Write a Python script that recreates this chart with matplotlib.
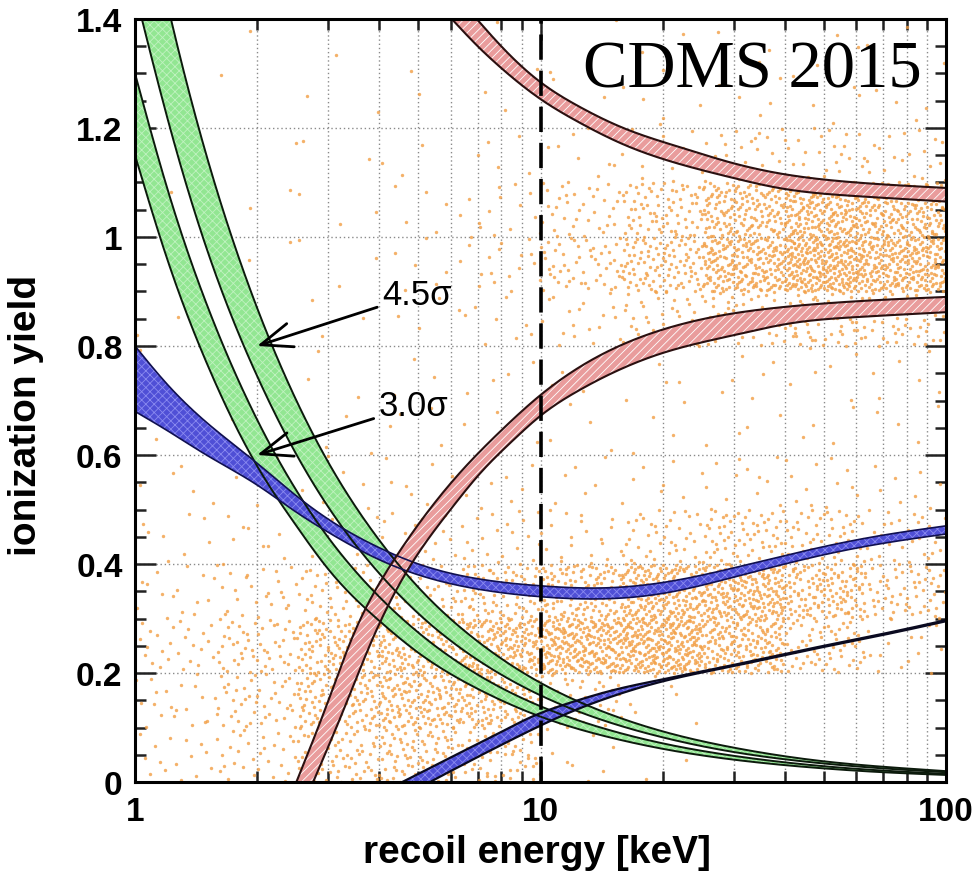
import numpy as np
import matplotlib
matplotlib.use("Agg")
import matplotlib.pyplot as plt
from matplotlib.ticker import FixedLocator, FuncFormatter, NullFormatter

# ---------------- data ----------------
# green bands (3.0 sigma = lower, 4.5 sigma = upper)
green_E = [1.0, 1.2, 1.5, 2.0, 2.5, 3.0, 4.0, 5.0, 7.0, 10, 15, 20, 30, 50, 70, 100]
g45_hi = [1.70, 1.43, 1.15, 0.87, 0.70, 0.586, 0.444, 0.357, 0.258, 0.182, 0.123, 0.093, 0.063, 0.038, 0.028, 0.020]
g45_lo = [1.45, 1.22, 0.98, 0.745, 0.601, 0.504, 0.383, 0.309, 0.224, 0.159, 0.108, 0.082, 0.055, 0.034, 0.025, 0.018]
g30_hi = [1.30, 1.09, 0.878, 0.665, 0.535, 0.448, 0.340, 0.274, 0.197, 0.139, 0.094, 0.071, 0.048, 0.029, 0.021, 0.015]
g30_lo = [1.15, 0.96, 0.77, 0.58, 0.47, 0.39, 0.296, 0.237, 0.171, 0.120, 0.081, 0.061, 0.041, 0.025, 0.018, 0.013]

# upper blue band
blue1_E = [1.0, 1.2, 1.5, 2.0, 2.5, 3.0, 4.0, 5.0, 7.0, 10, 14, 20, 30, 50, 70, 100]
blue1_hi = [0.80, 0.73, 0.66, 0.585, 0.525, 0.482, 0.43, 0.40, 0.373, 0.36, 0.356, 0.366, 0.393, 0.432, 0.453, 0.47]
blue1_lo = [0.68, 0.645, 0.60, 0.545, 0.495, 0.458, 0.408, 0.38, 0.354, 0.34, 0.336, 0.346, 0.376, 0.417, 0.438, 0.455]

# lower blue band
blue2_E = [4.56, 5, 6, 7, 8, 9.4, 12, 15, 19.6, 30, 50, 70, 100]
blue2_hi = [0.0, 0.015, 0.045, 0.07, 0.092, 0.118, 0.147, 0.168, 0.187, 0.215, 0.25, 0.272, 0.297]
blue2_lo = [-0.03, -0.012, 0.02, 0.046, 0.068, 0.094, 0.13, 0.157, 0.183, 0.213, 0.248, 0.27, 0.295]

# upper red band (descending)
red1_lo_E = [6.04, 7, 8, 10, 12.4, 16, 22, 30, 38.6, 60, 100]
red1_lo = [1.40, 1.35, 1.31, 1.253, 1.211, 1.17, 1.134, 1.108, 1.09, 1.075, 1.065]
red1_hi_E = [6.96, 8, 10, 12.4, 16, 22, 30, 38.6, 60, 100]
red1_hi = [1.40, 1.35, 1.284, 1.24, 1.20, 1.165, 1.135, 1.117, 1.10, 1.09]

# lower red band (rising)
red2_hi_E = [2.5, 3.0, 3.42, 4.32, 5.2, 6.2, 8, 10, 12.4, 19.6, 30, 41.7, 60, 100]
red2_hi = [0.0, 0.15, 0.262, 0.404, 0.49, 0.56, 0.645, 0.71, 0.76, 0.828, 0.86, 0.873, 0.882, 0.89]
red2_lo_E = [2.75, 3.3, 3.85, 4.84, 6.0, 7.07, 8.5, 10, 12.4, 19.6, 30, 41.7, 60, 100]
red2_lo = [0.0, 0.14, 0.262, 0.404, 0.50, 0.565, 0.625, 0.672, 0.718, 0.785, 0.82, 0.842, 0.853, 0.862]

# event density: rows = yield bins (0-0.1 ... 1.3-1.4),
# columns = log10(E) bins of width 0.2 from 1 keV to 100 keV
dens_logE_edges = [0, 0.2, 0.4, 0.6, 0.8, 1.0, 1.2, 1.4, 1.6, 1.8, 2.0]
dens_y_edges = [0, 0.1, 0.2, 0.3, 0.4, 0.5, 0.6, 0.7, 0.8, 0.9, 1.0, 1.1, 1.2, 1.3, 1.4]
dens_counts = [
    [15, 30, 70, 85, 55, 8, 2, 0, 0, 0],
    [20, 45, 110, 140, 130, 50, 6, 0, 0, 0],
    [25, 50, 110, 150, 190, 240, 260, 170, 60, 15],
    [15, 25, 45, 60, 80, 120, 200, 210, 130, 60],
    [8, 10, 12, 15, 20, 20, 40, 65, 55, 30],
    [5, 6, 6, 8, 8, 6, 8, 12, 12, 8],
    [3, 4, 4, 4, 4, 4, 4, 4, 4, 4],
    [2, 3, 3, 3, 4, 5, 5, 6, 6, 6],
    [2, 2, 3, 4, 8, 18, 35, 50, 60, 50],
    [1, 2, 3, 6, 18, 50, 100, 200, 280, 230],
    [1, 2, 3, 5, 14, 35, 75, 150, 210, 180],
    [1, 1, 2, 3, 5, 10, 15, 25, 25, 20],
    [1, 1, 1, 2, 3, 4, 6, 5, 5, 4],
    [1, 1, 1, 1, 2, 3, 3, 3, 3, 3],
]

y_ticks = [0, 0.2, 0.4, 0.6, 0.8, 1.0, 1.2, 1.4]
x_ticks = [1, 10, 100]
x_tick_labels = ["1", "10", "100"]


# ---------------- helpers ----------------
def nat_spline(x, y, xn):
    """Natural cubic spline through the read points."""
    x = np.asarray(x, float)
    y = np.asarray(y, float)
    n = len(x)
    h = np.diff(x)
    A = np.zeros((n, n))
    b = np.zeros(n)
    A[0, 0] = A[-1, -1] = 1.0
    for i in range(1, n - 1):
        A[i, i - 1] = h[i - 1]
        A[i, i] = 2 * (h[i - 1] + h[i])
        A[i, i + 1] = h[i]
        b[i] = 3 * ((y[i + 1] - y[i]) / h[i] - (y[i] - y[i - 1]) / h[i - 1])
    c = np.linalg.solve(A, b)
    bb = (y[1:] - y[:-1]) / h - h * (2 * c[:-1] + c[1:]) / 3
    dd = (c[1:] - c[:-1]) / (3 * h)
    idx = np.clip(np.searchsorted(x, xn) - 1, 0, n - 2)
    t = xn - x[idx]
    return y[idx] + bb[idx] * t + c[idx] * t ** 2 + dd[idx] * t ** 3


def smooth(E, y, n=400):
    lx = np.log10(E)
    lxn = np.linspace(lx[0], lx[-1], n)
    return 10 ** lxn, nat_spline(lx, y, lxn)


def radical_inverse(k, base):
    f, r = 1.0, np.zeros_like(k, dtype=float)
    k = k.copy()
    while np.any(k > 0):
        f /= base
        r += f * (k % base)
        k //= base
    return r


# ---------------- figure ----------------
plt.rcParams["hatch.linewidth"] = 0.6
fig = plt.figure(figsize=(9.79, 8.87), dpi=100)
ax = fig.add_axes([0.1379, 0.1172, 0.8284, 0.8603])
ax.set_xscale("log")
ax.set_xlim(1, 100)
ax.set_ylim(0, 1.4)

# event scatter: points spread evenly (Halton layout) inside each density cell
xs, ys = [], []
k0 = 1
for i, row in enumerate(dens_counts):
    for j, n in enumerate(row):
        if n == 0:
            continue
        k = np.arange(k0, k0 + n)
        k0 += n + 7
        u = radical_inverse(k, 2)
        v = radical_inverse(k, 3)
        lx0, lx1 = dens_logE_edges[j], dens_logE_edges[j + 1]
        y0, y1 = dens_y_edges[i], dens_y_edges[i + 1]
        xs.append(10 ** (lx0 + u * (lx1 - lx0)))
        ys.append(y0 + v * (y1 - y0))
xs = np.concatenate(xs)
ys = np.concatenate(ys)
ax.scatter(xs, ys, s=6, marker="o", color="#F29E44", alpha=0.8, linewidths=0, zorder=1)

# green bands
for lo, hi in [(g30_lo, g30_hi), (g45_lo, g45_hi)]:
    ex, ylo = smooth(green_E, lo)
    _, yhi = smooth(green_E, hi)
    ax.fill_between(ex, ylo, yhi, facecolor="#92E692", edgecolor="#C0F2C0",
                    hatch="xxxx", linewidth=0, zorder=3)
    ax.plot(ex, ylo, color="#0c1a0c", lw=1.4, zorder=4)
    ax.plot(ex, yhi, color="#0c1a0c", lw=1.4, zorder=4)

# blue bands
ex, ylo = smooth(blue1_E, blue1_lo)
_, yhi = smooth(blue1_E, blue1_hi)
ax.fill_between(ex, ylo, yhi, facecolor="#4F4FD6", edgecolor="#8A8AF0",
                hatch="xxxx", linewidth=0, zorder=3)
ax.plot(ex, ylo, color="#101050", lw=1.2, zorder=4)
ax.plot(ex, yhi, color="#101050", lw=1.2, zorder=4)

ex, ylo = smooth(blue2_E, blue2_lo)
_, yhi = smooth(blue2_E, blue2_hi)
ax.fill_between(ex, ylo, yhi, facecolor="#4F4FD6", edgecolor="#8A8AF0",
                hatch="xxxx", linewidth=0, zorder=3)
ax.plot(ex, ylo, color="#0a0a20", lw=1.6, zorder=4)
ax.plot(ex, yhi, color="#0a0a20", lw=1.6, zorder=4)

# red bands (hatched)
for loE, lo, hiE, hi in [(red1_lo_E, red1_lo, red1_hi_E, red1_hi),
                         (red2_lo_E, red2_lo, red2_hi_E, red2_hi)]:
    exl, yl = smooth(loE, lo)
    exh, yh = smooth(hiE, hi)
    px = list(exh) + list(exl)[::-1]
    py = list(yh) + list(yl)[::-1]
    ax.fill(px, py, facecolor="#E99C9C", edgecolor="white", hatch="////",
            linewidth=0, zorder=3)
    ax.plot(exl, yl, color="#2a1010", lw=1.5, zorder=4)
    ax.plot(exh, yh, color="#2a1010", lw=1.5, zorder=4)

# dashed threshold line
ax.axvline(10, color="black", lw=2.6, ls=(0, (7, 3)), zorder=5)

# grid
ax.grid(which="both", axis="x", ls=(0, (1, 2)), color="#8a8a8a", lw=1.0, zorder=0.5)
ax.grid(which="major", axis="y", ls=(0, (1, 2)), color="#8a8a8a", lw=1.0, zorder=0.5)
ax.set_axisbelow(True)

# ticks
ax.xaxis.set_major_locator(FixedLocator(x_ticks))
ax.xaxis.set_major_formatter(FuncFormatter(
    lambda v, p: x_tick_labels[x_ticks.index(int(round(v)))] if int(round(v)) in x_ticks else ""))
ax.xaxis.set_minor_locator(FixedLocator([2, 3, 4, 5, 6, 7, 8, 9, 20, 30, 40, 50, 60, 70, 80, 90]))
ax.xaxis.set_minor_formatter(NullFormatter())
ax.yaxis.set_major_locator(FixedLocator(y_ticks))
ax.yaxis.set_major_formatter(FuncFormatter(lambda v, p: "%g" % v))
ax.yaxis.set_minor_locator(FixedLocator(np.arange(0, 1.401, 0.05)))
ax.tick_params(which="both", direction="in", top=True, right=True, width=1.8, color="#222222")
ax.tick_params(which="major", length=15)
ax.tick_params(which="minor", length=8)
ax.tick_params(axis="y", which="major", pad=9)
ax.tick_params(axis="x", which="major", pad=10)
for lab in ax.get_xticklabels() + ax.get_yticklabels():
    lab.set_fontfamily("Liberation Sans")
    lab.set_fontweight("bold")
    lab.set_fontsize(24)

for sp in ax.spines.values():
    sp.set_linewidth(2.2)
    sp.set_zorder(6)

ax.set_xlabel("recoil energy [keV]", fontfamily="Liberation Sans", fontweight="bold", fontsize=28)
ax.set_ylabel("ionization yield", fontfamily="Liberation Sans", fontweight="bold", fontsize=28)
ax.xaxis.set_label_coords(0.496, -0.068)
ax.yaxis.set_label_coords(-0.112, 0.482)

# annotations
arrow = dict(arrowstyle="->,head_length=0.9,head_width=0.35", lw=2.0, color="black",
             shrinkA=2, shrinkB=0)
ax.annotate("4.5σ", xy=(2.0, 0.80), xytext=(4.08, 0.895), ha="left", va="center",
            fontsize=25, fontfamily="Liberation Sans", arrowprops=arrow, zorder=7)
ax.annotate("3.0σ", xy=(2.0, 0.60), xytext=(4.0, 0.69), ha="left", va="center",
            fontsize=25, fontfamily="Liberation Sans", arrowprops=arrow, zorder=7)

ax.text(0.970, 0.911, "CDMS 2015", transform=ax.transAxes, ha="right", va="baseline",
        fontsize=48, fontfamily="Liberation Serif", zorder=8)

fig.savefig("out.png", dpi=100)
